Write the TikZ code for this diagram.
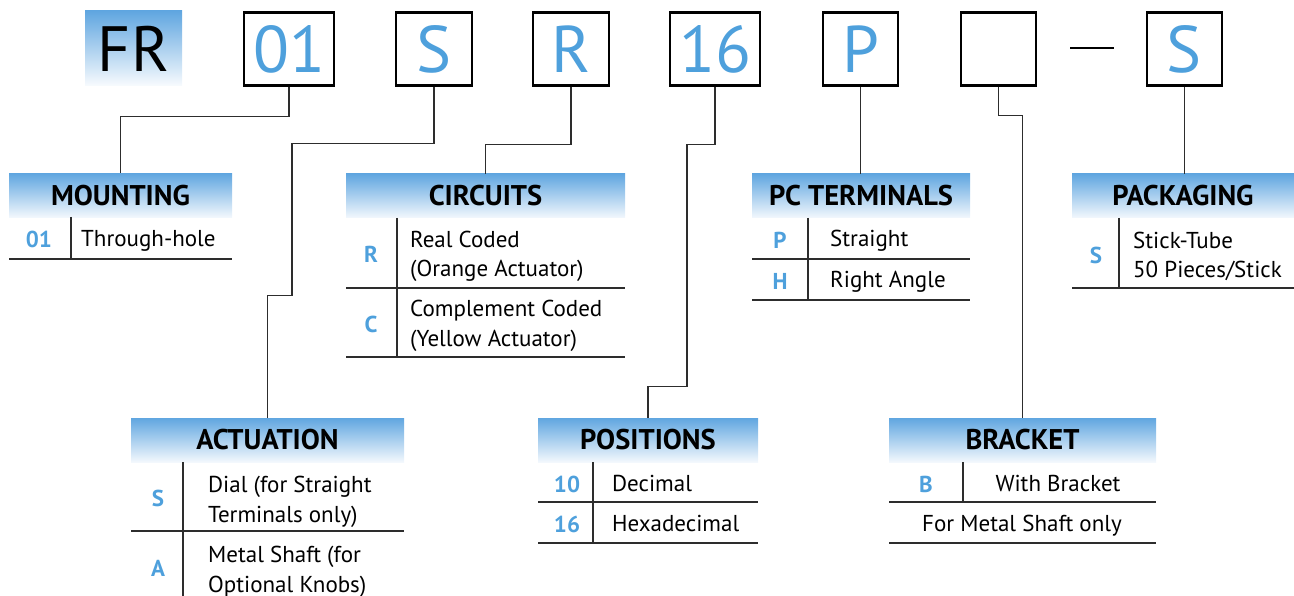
\documentclass[tikz,border=0pt]{standalone}
\usepackage{fontspec}
\setmainfont{PT Sans}
\usetikzlibrary{positioning}
\definecolor{codeblue}{RGB}{78,160,220}
\definecolor{hdrtop}{RGB}{96,166,224}
\definecolor{hdrbot}{RGB}{243,248,253}
\definecolor{linegray}{RGB}{45,45,45}
\begin{document}
\begin{tikzpicture}[x=1pt,y=-1pt,
	keybox/.style={draw,line width=2.4pt,minimum height=73pt,inner sep=0pt,text=codeblue,font=\fontsize{66}{70}\selectfont},
	hdr/.style={top color=hdrtop,bottom color=hdrbot,minimum height=44pt,inner sep=0pt,font=\bfseries\fontsize{28.5}{30}\selectfont},
	tabline/.style={line width=1.3pt,draw=linegray},
	wire/.style={line width=1.2pt,draw=linegray},
	codetxt/.style={text=codeblue,inner sep=0pt,font=\bfseries\fontsize{23}{29}\selectfont},
	desctxt/.style={anchor=base west,align=left,inner sep=0pt,font=\fontsize{23}{29.5}\selectfont}]
	\useasboundingbox (0,0) rectangle (1294,596);
	% part number keys
	\node[top color=hdrtop,bottom color=hdrbot!60!white,minimum width=97pt,minimum height=75pt,inner sep=0pt,font=\fontsize{64}{70}\selectfont] (kFR) at (133.5,48.5) {FR};
	\node[keybox,minimum width=90pt] (kMnt) at (289,49) {01};
	\node[keybox,minimum width=76pt] (kAct) at (434,49) {S};
	\node[keybox,minimum width=76pt] (kCir) at (571,49) {R};
	\node[keybox,minimum width=90pt] (kPos) at (715,49) {16};
	\node[keybox,minimum width=75pt] (kPC) at (860.5,49) {P};
	\node[keybox,minimum width=75pt] (kBr) at (998.5,49) {};
	\node[keybox,minimum width=75pt] (kPk) at (1184.5,49) {S};
	\coordinate (dashL) at (1070,48);
	\coordinate (dashR) at (1114,48);
	\draw[line width=2.6pt] (dashL)--(dashR);
	% headers
	\node[hdr,minimum width=223pt] (hMnt) at (120.5,195.5) {MOUNTING};
	\node[hdr,minimum width=279pt] (hCir) at (485.5,196) {CIRCUITS};
	\node[hdr,minimum width=218pt] (hPC) at (861,196) {PC TERMINALS};
	\node[hdr,minimum width=222pt] (hPk) at (1183,196) {PACKAGING};
	\node[hdr,minimum width=273pt] (hAct) at (267.5,440) {ACTUATION};
	\node[hdr,minimum width=220pt] (hPos) at (648,440) {POSITIONS};
	\node[hdr,minimum width=267pt] (hBr) at (1022.5,440) {BRACKET};
	% connectors
	\draw[wire] (kMnt.south) -- ++(0,30) -| (hMnt.north);
	\draw[wire] (kAct.south) -- ++(0,57) -- ++(-142,0) -- ++(0,152) -| (hAct.north);
	\draw[wire] (kCir.south) -- ++(0,58) -| (hCir.north);
	\draw[wire] (kPos.south) -- ++(0,58) -- ++(-28,0) -- ++(0,242) -| (hPos.north);
	\draw[wire] (kPC.south) -- (kPC.south |- hPC.north);
	\draw[wire] (kBr.south) -- ++(0,29) -| (hBr.north);
	\draw[wire] (kPk.south) -- (kPk.south |- hPk.north);
	% mounting
	\draw[tabline] (71,217)--(71,259) (9,259)--(232,259);
	\node[codetxt] (cMnt1) at (39,239) {01};
	\node[desctxt] (dMnt1) at (81,247) {Through-hole};
	% circuits
	\draw[tabline] (397,218)--(397,357) (346,288)--(625,288) (346,357)--(625,357);
	\node[codetxt] (cCir1) at (371,254) {R};
	\node[desctxt] (dCir1) at (410,277) {Real Coded\\(Orange Actuator)};
	\node[codetxt] (cCir2) at (371,324) {C};
	\node[desctxt] (dCir2) at (410,346) {Complement Coded\\(Yellow Actuator)};
	% pc terminals
	\draw[tabline] (808,218)--(808,300) (752,259)--(970,259) (752,300)--(970,300);
	\node[codetxt] (cPC1) at (780,240) {P};
	\node[desctxt] (dPC1) at (830,247) {Straight};
	\node[codetxt] (cPC2) at (780,281) {H};
	\node[desctxt] (dPC2) at (830,288) {Right Angle};
	% packaging
	\draw[tabline] (1119,218)--(1119,288) (1072,288)--(1294,288);
	\node[codetxt] (cPk1) at (1096,255) {S};
	\node[desctxt] (dPk1) at (1133,278) {Stick-Tube\\50 Pieces/Stick};
	% actuation
	\draw[tabline] (183,462)--(183,596) (131,531)--(404,531);
	\node[codetxt] (cAct1) at (158,498) {S};
	\node[desctxt] (dAct1) at (208,522) {Dial (for Straight\\Terminals only)};
	\node[codetxt] (cAct2) at (158,568) {A};
	\node[desctxt] (dAct2) at (208,592) {Metal Shaft (for\\Optional Knobs)};
	% positions
	\draw[tabline] (593,462)--(593,543) (538,502)--(758,502) (538,543)--(758,543);
	\node[codetxt] (cPos1) at (567,484) {10};
	\node[desctxt] (dPos1) at (612,491) {Decimal};
	\node[codetxt] (cPos2) at (567,524) {16};
	\node[desctxt] (dPos2) at (612,531) {Hexadecimal};
	% bracket
	\draw[tabline] (963,462)--(963,502) (889,502)--(1156,502) (889,543)--(1156,543);
	\node[codetxt] (cBr1) at (926,484) {B};
	\node[desctxt,anchor=base] (dBr1) at (1058,491) {With Bracket};
	\node[desctxt,anchor=base] (dBr2) at (1022,531) {For Metal Shaft only};
\end{tikzpicture}
\end{document}
